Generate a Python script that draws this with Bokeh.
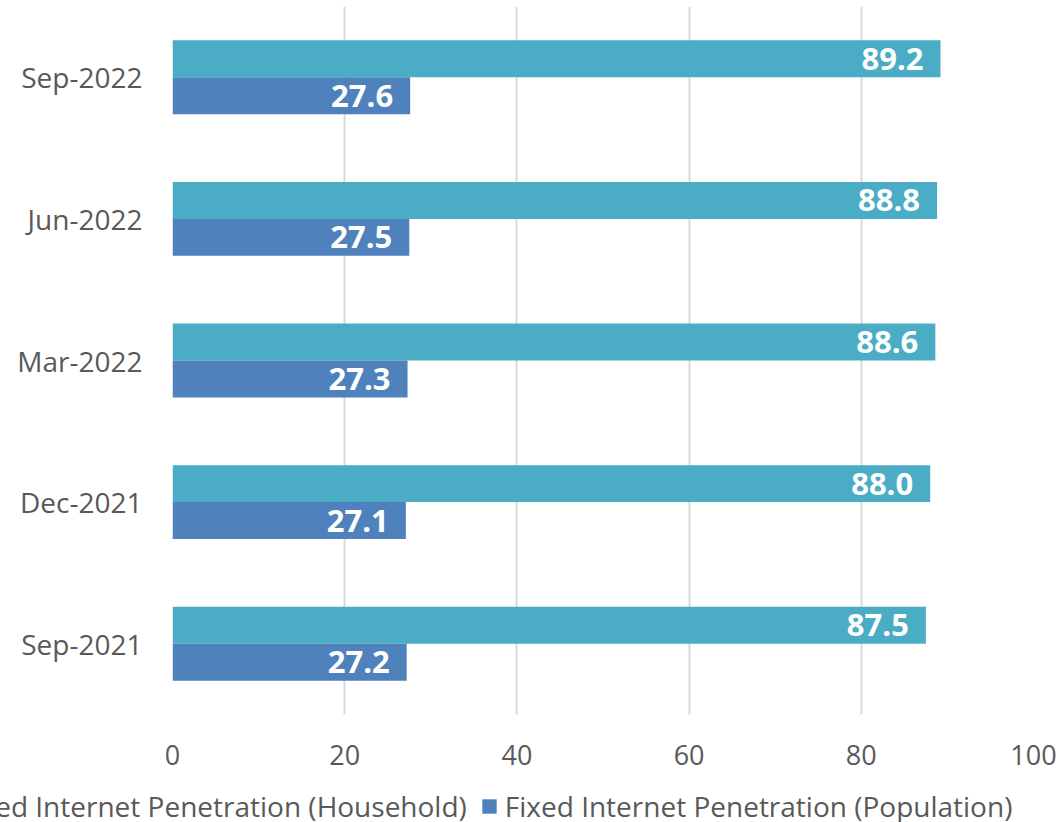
from bokeh.plotting import figure
from bokeh.layouts import column, row
from bokeh.models import ColumnDataSource, FactorRange, Range1d, FixedTicker, Legend, LegendItem
from bokeh.transform import dodge
from bokeh.core.properties import value
from bokeh.embed import file_html
from bokeh.resources import INLINE

# Quarterly fixed internet penetration, oldest at the bottom
quarters = ["Sep-2021", "Dec-2021", "Mar-2022", "Jun-2022", "Sep-2022"]
household = [87.5, 88.0, 88.6, 88.8, 89.2]
population = [27.2, 27.1, 27.3, 27.5, 27.6]
x_ticks = [0, 20, 40, 60, 80, 100]
series_names = ["Fixed Internet Penetration (Household)",
                "Fixed Internet Penetration (Population)"]

TEAL = "#4BACC6"
BLUE = "#4F81BD"
GREY_TEXT = "#595959"
FONT = "Open Sans"

src = ColumnDataSource(dict(
    q=quarters,
    hh=household,
    pop=population,
    hh_lbl=[f"{v:.1f}" for v in household],
    pop_lbl=[f"{v:.1f}" for v in population],
))

p = figure(
    y_range=FactorRange(factors=quarters, range_padding=0),
    x_range=Range1d(0, 100),
    frame_width=861, frame_height=708,
    min_border_left=172, min_border_right=31,
    min_border_top=6, min_border_bottom=64,
    output_backend="svg", toolbar_location=None,
    background_fill_color="white", border_fill_color="white",
)
p.outline_line_color = None

bar_h = 0.261
off = bar_h / 2

p.hbar(y=dodge("q", off, range=p.y_range), right="hh", left=0, height=bar_h,
       source=src, fill_color=TEAL, line_color=None)
p.hbar(y=dodge("q", -off, range=p.y_range), right="pop", left=0, height=bar_h,
       source=src, fill_color=BLUE, line_color=None)

label_kw = dict(text_color="white", text_font=value(FONT), text_font_style="bold",
                text_font_size="31px", text_align="right", text_baseline="middle",
                x_offset=-17, source=src)
p.text(x="hh", y=dodge("q", off, range=p.y_range), text="hh_lbl", **label_kw)
p.text(x="pop", y=dodge("q", -off, range=p.y_range), text="pop_lbl", **label_kw)

# Axes
p.xaxis.ticker = FixedTicker(ticks=x_ticks)
p.xaxis.axis_line_color = None
p.xaxis.major_tick_line_color = None
p.xaxis.major_tick_out = 0
p.xaxis.minor_tick_line_color = None
p.xaxis.minor_tick_out = 0
p.xaxis.major_label_text_font = FONT
p.xaxis.major_label_text_font_size = "27px"
p.xaxis.major_label_text_color = GREY_TEXT
p.xaxis.major_label_standoff = 30

p.yaxis.axis_line_color = None
p.yaxis.major_tick_line_color = None
p.yaxis.major_tick_out = 0
p.yaxis.major_label_text_font = FONT
p.yaxis.major_label_text_font_size = "28px"
p.yaxis.major_label_text_color = GREY_TEXT
p.yaxis.major_label_standoff = 30

p.ygrid.grid_line_color = None
p.xgrid.grid_line_color = "#D9D9D9"
p.xgrid.grid_line_width = 2

# Legend strip underneath the chart, spanning the full width
lg = figure(
    width=1064, height=44,
    x_range=Range1d(0, 1), y_range=Range1d(0, 1),
    min_border_left=0, min_border_right=0,
    min_border_top=0, min_border_bottom=0,
    output_backend="svg", toolbar_location=None,
    background_fill_color="white", border_fill_color="white",
)
lg.outline_line_color = None
lg.xaxis.visible = False
lg.yaxis.visible = False
lg.grid.visible = False
# key swatches: one bar each, parked outside the strip's visible range
key_src = ColumnDataSource(dict(y=[-10], right=[-10]))
k_hh = lg.hbar(y="y", right="right", height=1, source=key_src, fill_color=TEAL, line_color=None)
k_pop = lg.hbar(y="y", right="right", height=1, source=key_src, fill_color=BLUE, line_color=None)

legend = Legend(
    items=[
        LegendItem(label=series_names[0], renderers=[k_hh]),
        LegendItem(label=series_names[1], renderers=[k_pop]),
    ],
    orientation="horizontal",
    location=(-66, -3),
    glyph_width=18, glyph_height=18,
    label_standoff=7, spacing=13,
    padding=0, margin=0,
    border_line_color=None, background_fill_alpha=0,
    label_text_font=FONT, label_text_font_size="28px", label_text_color=GREY_TEXT,
)
lg.add_layout(legend, "center")

layout = column(p, row(lg, spacing=0), spacing=0)
open("out.html", "w").write(file_html(layout, INLINE))
